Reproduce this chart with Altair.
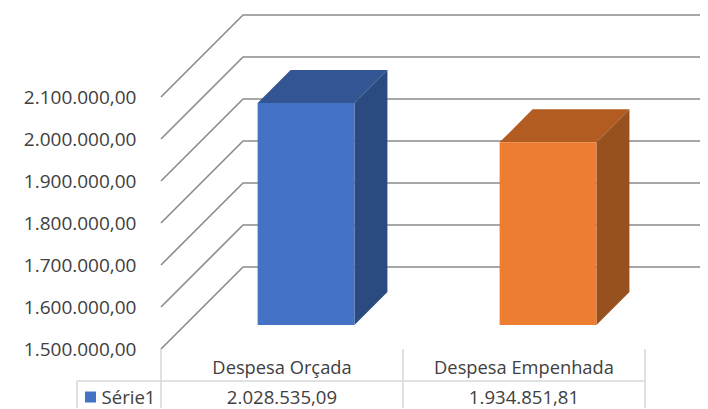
import altair as alt
import pandas as pd

categories = ["Despesa Orçada", "Despesa Empenhada"]
values = [2028535.09, 1934851.81]
value_labels = ["2.028.535,09", "1.934.851,81"]
series_name = ["Série1"]
ticks = [1500000, 1600000, 1700000, 1800000, 1900000, 2000000, 2100000]
front_colors = ["#4472C4", "#ED7D31"]
top_colors = ["#335593", "#B25C22"]
side_colors = ["#2B4A80", "#97511E"]

# oblique projection in data units
DX = 0.339        # full depth, category units
DY = 195238       # full depth, value units
D0, D1 = 0.293, 0.695   # bar's position in the depth
HALF = 0.2        # half bar width in category units
BASE = 1500000
X_END = 2.3

x_scale = alt.Scale(domain=[-0.6322, 2.2273], nice=False, zero=False)
y_scale = alt.Scale(domain=[1359524, 2311905], nice=False, zero=False)

X = lambda f, **k: alt.X(f, type="quantitative", scale=x_scale, axis=None, title=None, **k)
Y = lambda f, **k: alt.Y(f, type="quantitative", scale=y_scale, axis=None, title=None, **k)

grid_rows = []
for t in ticks:
    grid_rows += [
        {"t": t, "i": 0, "x": 0, "y": t},
        {"t": t, "i": 1, "x": DX, "y": t + DY},
        {"t": t, "i": 2, "x": X_END, "y": t + DY},
    ]
grid = alt.Chart(pd.DataFrame(grid_rows)).mark_line(
    color="#8C8C8C", strokeWidth=1.6, clip=True
).encode(
    x=X("x"),
    y=alt.Y("y", type="quantitative", scale=y_scale, title=None, axis=alt.Axis(
        values=ticks, offset=-128, domain=False, ticks=False, grid=False, labelPadding=0,
        labelFont="Open Sans", labelFontSize=19, labelColor="#404040",
        labelExpr="replace(replace(replace(format(datum.value,',.2f'),regexp(',','g'),'#'),regexp('\\\\.','g'),','),regexp('#','g'),'.')",
    )),
    detail="t:N", order="i:Q",
)

layers = [grid]
base_y = BASE + D0 * DY
for i, v in enumerate(values):
    cx = i + 0.5
    xl, xr = cx - HALF + D0 * DX, cx + HALF + D0 * DX
    ddx, ddy = (D1 - D0) * DX, (D1 - D0) * DY
    top_y = v + D0 * DY
    front = pd.DataFrame([{"x": xl, "x2": xr, "y": base_y, "y2": top_y}])
    side = pd.DataFrame([
        {"x": xr, "y": base_y, "y2": top_y},
        {"x": xr + ddx, "y": base_y + ddy, "y2": top_y + ddy},
    ])
    top = pd.DataFrame([
        {"y": top_y, "x": xl, "x2": xr},
        {"y": top_y + ddy, "x": xl + ddx, "x2": xr + ddx},
    ])
    layers.append(alt.Chart(side).mark_area(color=side_colors[i], orient="vertical").encode(
        x=X("x"), y=Y("y"), y2="y2:Q"))
    layers.append(alt.Chart(top).mark_area(color=top_colors[i], orient="horizontal").encode(
        y=Y("y"), x=X("x"), x2="x2:Q"))
    layers.append(alt.Chart(front).mark_rect(color=front_colors[i]).encode(
        x=X("x"), x2="x2:Q", y=Y("y"), y2="y2:Q"))

# data table under the plot
TABLE = "#D9D9D9"
seps = pd.DataFrame({"x": [0, 1, 2]})
layers.append(alt.Chart(seps).mark_rule(color=TABLE, strokeWidth=1.6).encode(
    x=X("x"), y=alt.value(341), y2=alt.value(400)))
layers.append(alt.Chart(pd.DataFrame({"a": [0]})).mark_rule(color=TABLE, strokeWidth=1.6).encode(
    x=alt.value(69), y=alt.value(373), y2=alt.value(400)))
layers.append(alt.Chart(pd.DataFrame({"a": [0]})).mark_rule(color=TABLE, strokeWidth=1.6).encode(
    x=alt.value(69), x2=alt.value(637), y=alt.value(373)))

table = pd.DataFrame({"x": [0.5, 1.5], "cat": categories, "val": value_labels})
txt = dict(font="Open Sans", color="#404040", baseline="middle")
layers.append(alt.Chart(table).mark_text(fontSize=18.3, **txt).encode(x=X("x"), y=alt.value(361), text="cat:N"))
layers.append(alt.Chart(table).mark_text(fontSize=18.6, **txt).encode(x=X("x"), y=alt.value(389.5), text="val:N"))
layers.append(alt.Chart(pd.DataFrame({"s": series_name})).mark_square(
    color=front_colors[0], size=121, opacity=1).encode(x=alt.value(82.5), y=alt.value(389)))
layers.append(alt.Chart(pd.DataFrame({"s": series_name})).mark_text(align="left", fontSize=18.6, **txt).encode(
    x=alt.value(93.5), y=alt.value(389.5), text="s:N"))

chart = alt.layer(*layers).resolve_axis(y="independent").properties(
    width=692, height=400, padding=0,
    autosize=alt.AutoSizeParams(type="none"), background="white",
).configure_view(stroke=None)

chart.save("out.html", embed_options={"renderer": "svg", "actions": False})
